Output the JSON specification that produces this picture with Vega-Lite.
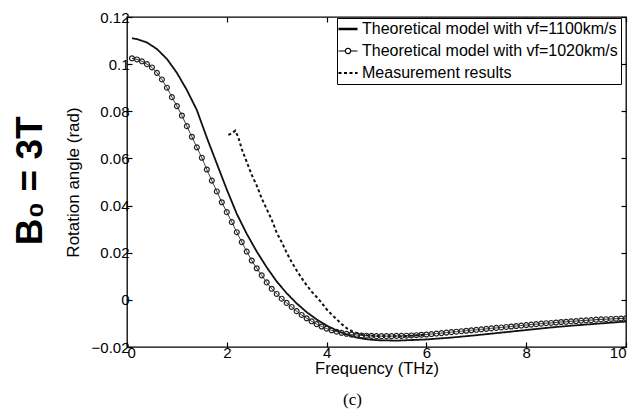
{
  "$schema": "https://vega.github.io/schema/vega-lite/v6.json",
  "padding": {"left": 12, "top": 9, "right": 0, "bottom": 2},
  "background": "white",
  "title": {"text": "B₀ = 3T", "orient": "left", "anchor": "middle", "fontSize": 37, "fontWeight": "bold", "font": "Liberation Sans", "color": "black", "offset": 13, "dx": 28},
  "datasets": {
    "curves": [
      {"series": "Theoretical model with vf=1100km/s", "freq": 0.1, "angle": 0.1110},
      {"series": "Theoretical model with vf=1100km/s", "freq": 0.2, "angle": 0.1106},
      {"series": "Theoretical model with vf=1100km/s", "freq": 0.4, "angle": 0.1092},
      {"series": "Theoretical model with vf=1100km/s", "freq": 0.6, "angle": 0.1064},
      {"series": "Theoretical model with vf=1100km/s", "freq": 0.8, "angle": 0.1022},
      {"series": "Theoretical model with vf=1100km/s", "freq": 1.0, "angle": 0.0963},
      {"series": "Theoretical model with vf=1100km/s", "freq": 1.2, "angle": 0.0890},
      {"series": "Theoretical model with vf=1100km/s", "freq": 1.4, "angle": 0.0805},
      {"series": "Theoretical model with vf=1100km/s", "freq": 1.6, "angle": 0.0688},
      {"series": "Theoretical model with vf=1100km/s", "freq": 1.8, "angle": 0.0578},
      {"series": "Theoretical model with vf=1100km/s", "freq": 2.0, "angle": 0.0468},
      {"series": "Theoretical model with vf=1100km/s", "freq": 2.2, "angle": 0.0365},
      {"series": "Theoretical model with vf=1100km/s", "freq": 2.4, "angle": 0.0280},
      {"series": "Theoretical model with vf=1100km/s", "freq": 2.6, "angle": 0.0205},
      {"series": "Theoretical model with vf=1100km/s", "freq": 2.8, "angle": 0.0138},
      {"series": "Theoretical model with vf=1100km/s", "freq": 3.0, "angle": 0.0078},
      {"series": "Theoretical model with vf=1100km/s", "freq": 3.2, "angle": 0.0028},
      {"series": "Theoretical model with vf=1100km/s", "freq": 3.4, "angle": -0.0015},
      {"series": "Theoretical model with vf=1100km/s", "freq": 3.6, "angle": -0.0052},
      {"series": "Theoretical model with vf=1100km/s", "freq": 3.8, "angle": -0.0083},
      {"series": "Theoretical model with vf=1100km/s", "freq": 4.0, "angle": -0.0109},
      {"series": "Theoretical model with vf=1100km/s", "freq": 4.2, "angle": -0.0130},
      {"series": "Theoretical model with vf=1100km/s", "freq": 4.4, "angle": -0.0147},
      {"series": "Theoretical model with vf=1100km/s", "freq": 4.6, "angle": -0.0160},
      {"series": "Theoretical model with vf=1100km/s", "freq": 4.8, "angle": -0.0167},
      {"series": "Theoretical model with vf=1100km/s", "freq": 5.0, "angle": -0.0171},
      {"series": "Theoretical model with vf=1100km/s", "freq": 5.4, "angle": -0.0173},
      {"series": "Theoretical model with vf=1100km/s", "freq": 6.0, "angle": -0.0168},
      {"series": "Theoretical model with vf=1100km/s", "freq": 6.5, "angle": -0.0160},
      {"series": "Theoretical model with vf=1100km/s", "freq": 7.0, "angle": -0.0150},
      {"series": "Theoretical model with vf=1100km/s", "freq": 7.5, "angle": -0.0139},
      {"series": "Theoretical model with vf=1100km/s", "freq": 8.0, "angle": -0.0128},
      {"series": "Theoretical model with vf=1100km/s", "freq": 8.5, "angle": -0.0117},
      {"series": "Theoretical model with vf=1100km/s", "freq": 9.0, "angle": -0.0108},
      {"series": "Theoretical model with vf=1100km/s", "freq": 9.5, "angle": -0.0100},
      {"series": "Theoretical model with vf=1100km/s", "freq": 10.0, "angle": -0.0092},

      {"series": "Theoretical model with vf=1020km/s", "freq": 0.1, "angle": 0.1025},
      {"series": "Theoretical model with vf=1020km/s", "freq": 0.2, "angle": 0.1020},
      {"series": "Theoretical model with vf=1020km/s", "freq": 0.3, "angle": 0.1012},
      {"series": "Theoretical model with vf=1020km/s", "freq": 0.4, "angle": 0.1000},
      {"series": "Theoretical model with vf=1020km/s", "freq": 0.5, "angle": 0.0986},
      {"series": "Theoretical model with vf=1020km/s", "freq": 0.6, "angle": 0.0963},
      {"series": "Theoretical model with vf=1020km/s", "freq": 0.7, "angle": 0.0935},
      {"series": "Theoretical model with vf=1020km/s", "freq": 0.8, "angle": 0.0900},
      {"series": "Theoretical model with vf=1020km/s", "freq": 0.9, "angle": 0.0860},
      {"series": "Theoretical model with vf=1020km/s", "freq": 1.0, "angle": 0.0822},
      {"series": "Theoretical model with vf=1020km/s", "freq": 1.1, "angle": 0.0782},
      {"series": "Theoretical model with vf=1020km/s", "freq": 1.2, "angle": 0.0737},
      {"series": "Theoretical model with vf=1020km/s", "freq": 1.3, "angle": 0.0692},
      {"series": "Theoretical model with vf=1020km/s", "freq": 1.4, "angle": 0.0647},
      {"series": "Theoretical model with vf=1020km/s", "freq": 1.5, "angle": 0.0603},
      {"series": "Theoretical model with vf=1020km/s", "freq": 1.6, "angle": 0.0553},
      {"series": "Theoretical model with vf=1020km/s", "freq": 1.7, "angle": 0.0506},
      {"series": "Theoretical model with vf=1020km/s", "freq": 1.8, "angle": 0.0460},
      {"series": "Theoretical model with vf=1020km/s", "freq": 1.9, "angle": 0.0414},
      {"series": "Theoretical model with vf=1020km/s", "freq": 2.0, "angle": 0.0372},
      {"series": "Theoretical model with vf=1020km/s", "freq": 2.1, "angle": 0.0330},
      {"series": "Theoretical model with vf=1020km/s", "freq": 2.2, "angle": 0.0287},
      {"series": "Theoretical model with vf=1020km/s", "freq": 2.3, "angle": 0.0245},
      {"series": "Theoretical model with vf=1020km/s", "freq": 2.4, "angle": 0.0205},
      {"series": "Theoretical model with vf=1020km/s", "freq": 2.5, "angle": 0.0167},
      {"series": "Theoretical model with vf=1020km/s", "freq": 2.6, "angle": 0.0134},
      {"series": "Theoretical model with vf=1020km/s", "freq": 2.7, "angle": 0.0104},
      {"series": "Theoretical model with vf=1020km/s", "freq": 2.8, "angle": 0.0074},
      {"series": "Theoretical model with vf=1020km/s", "freq": 2.9, "angle": 0.0047},
      {"series": "Theoretical model with vf=1020km/s", "freq": 3.0, "angle": 0.0025},
      {"series": "Theoretical model with vf=1020km/s", "freq": 3.1, "angle": 0.0005},
      {"series": "Theoretical model with vf=1020km/s", "freq": 3.2, "angle": -0.0013},
      {"series": "Theoretical model with vf=1020km/s", "freq": 3.3, "angle": -0.0030},
      {"series": "Theoretical model with vf=1020km/s", "freq": 3.4, "angle": -0.0048},
      {"series": "Theoretical model with vf=1020km/s", "freq": 3.5, "angle": -0.0064},
      {"series": "Theoretical model with vf=1020km/s", "freq": 3.6, "angle": -0.0078},
      {"series": "Theoretical model with vf=1020km/s", "freq": 3.7, "angle": -0.0091},
      {"series": "Theoretical model with vf=1020km/s", "freq": 3.8, "angle": -0.0103},
      {"series": "Theoretical model with vf=1020km/s", "freq": 3.9, "angle": -0.0113},
      {"series": "Theoretical model with vf=1020km/s", "freq": 4.0, "angle": -0.0122},
      {"series": "Theoretical model with vf=1020km/s", "freq": 4.1, "angle": -0.0129},
      {"series": "Theoretical model with vf=1020km/s", "freq": 4.2, "angle": -0.0135},
      {"series": "Theoretical model with vf=1020km/s", "freq": 4.3, "angle": -0.0140},
      {"series": "Theoretical model with vf=1020km/s", "freq": 4.4, "angle": -0.0144},
      {"series": "Theoretical model with vf=1020km/s", "freq": 4.5, "angle": -0.0147},
      {"series": "Theoretical model with vf=1020km/s", "freq": 4.6, "angle": -0.0149},
      {"series": "Theoretical model with vf=1020km/s", "freq": 4.7, "angle": -0.0151},
      {"series": "Theoretical model with vf=1020km/s", "freq": 4.8, "angle": -0.0152},
      {"series": "Theoretical model with vf=1020km/s", "freq": 4.9, "angle": -0.0153},
      {"series": "Theoretical model with vf=1020km/s", "freq": 5.0, "angle": -0.0154},
      {"series": "Theoretical model with vf=1020km/s", "freq": 5.1, "angle": -0.0154},
      {"series": "Theoretical model with vf=1020km/s", "freq": 5.2, "angle": -0.0154},
      {"series": "Theoretical model with vf=1020km/s", "freq": 5.3, "angle": -0.0154},
      {"series": "Theoretical model with vf=1020km/s", "freq": 5.4, "angle": -0.0153},
      {"series": "Theoretical model with vf=1020km/s", "freq": 5.5, "angle": -0.0153},
      {"series": "Theoretical model with vf=1020km/s", "freq": 5.6, "angle": -0.0152},
      {"series": "Theoretical model with vf=1020km/s", "freq": 5.7, "angle": -0.0151},
      {"series": "Theoretical model with vf=1020km/s", "freq": 5.8, "angle": -0.0150},
      {"series": "Theoretical model with vf=1020km/s", "freq": 5.9, "angle": -0.0148},
      {"series": "Theoretical model with vf=1020km/s", "freq": 6.0, "angle": -0.0147},
      {"series": "Theoretical model with vf=1020km/s", "freq": 6.1, "angle": -0.0145},
      {"series": "Theoretical model with vf=1020km/s", "freq": 6.2, "angle": -0.0143},
      {"series": "Theoretical model with vf=1020km/s", "freq": 6.3, "angle": -0.0141},
      {"series": "Theoretical model with vf=1020km/s", "freq": 6.4, "angle": -0.0139},
      {"series": "Theoretical model with vf=1020km/s", "freq": 6.5, "angle": -0.0137},
      {"series": "Theoretical model with vf=1020km/s", "freq": 6.6, "angle": -0.0135},
      {"series": "Theoretical model with vf=1020km/s", "freq": 6.7, "angle": -0.0133},
      {"series": "Theoretical model with vf=1020km/s", "freq": 6.8, "angle": -0.0131},
      {"series": "Theoretical model with vf=1020km/s", "freq": 6.9, "angle": -0.0129},
      {"series": "Theoretical model with vf=1020km/s", "freq": 7.0, "angle": -0.0127},
      {"series": "Theoretical model with vf=1020km/s", "freq": 7.1, "angle": -0.0125},
      {"series": "Theoretical model with vf=1020km/s", "freq": 7.2, "angle": -0.0123},
      {"series": "Theoretical model with vf=1020km/s", "freq": 7.3, "angle": -0.0121},
      {"series": "Theoretical model with vf=1020km/s", "freq": 7.4, "angle": -0.0119},
      {"series": "Theoretical model with vf=1020km/s", "freq": 7.5, "angle": -0.0117},
      {"series": "Theoretical model with vf=1020km/s", "freq": 7.6, "angle": -0.0115},
      {"series": "Theoretical model with vf=1020km/s", "freq": 7.7, "angle": -0.0113},
      {"series": "Theoretical model with vf=1020km/s", "freq": 7.8, "angle": -0.0111},
      {"series": "Theoretical model with vf=1020km/s", "freq": 7.9, "angle": -0.0109},
      {"series": "Theoretical model with vf=1020km/s", "freq": 8.0, "angle": -0.0107},
      {"series": "Theoretical model with vf=1020km/s", "freq": 8.1, "angle": -0.0105},
      {"series": "Theoretical model with vf=1020km/s", "freq": 8.2, "angle": -0.0103},
      {"series": "Theoretical model with vf=1020km/s", "freq": 8.3, "angle": -0.0101},
      {"series": "Theoretical model with vf=1020km/s", "freq": 8.4, "angle": -0.0099},
      {"series": "Theoretical model with vf=1020km/s", "freq": 8.5, "angle": -0.0098},
      {"series": "Theoretical model with vf=1020km/s", "freq": 8.6, "angle": -0.0096},
      {"series": "Theoretical model with vf=1020km/s", "freq": 8.7, "angle": -0.0094},
      {"series": "Theoretical model with vf=1020km/s", "freq": 8.8, "angle": -0.0093},
      {"series": "Theoretical model with vf=1020km/s", "freq": 8.9, "angle": -0.0091},
      {"series": "Theoretical model with vf=1020km/s", "freq": 9.0, "angle": -0.0090},
      {"series": "Theoretical model with vf=1020km/s", "freq": 9.1, "angle": -0.0088},
      {"series": "Theoretical model with vf=1020km/s", "freq": 9.2, "angle": -0.0087},
      {"series": "Theoretical model with vf=1020km/s", "freq": 9.3, "angle": -0.0086},
      {"series": "Theoretical model with vf=1020km/s", "freq": 9.4, "angle": -0.0084},
      {"series": "Theoretical model with vf=1020km/s", "freq": 9.5, "angle": -0.0083},
      {"series": "Theoretical model with vf=1020km/s", "freq": 9.6, "angle": -0.0082},
      {"series": "Theoretical model with vf=1020km/s", "freq": 9.7, "angle": -0.0081},
      {"series": "Theoretical model with vf=1020km/s", "freq": 9.8, "angle": -0.0080},
      {"series": "Theoretical model with vf=1020km/s", "freq": 9.9, "angle": -0.0079},
      {"series": "Theoretical model with vf=1020km/s", "freq": 10.0, "angle": -0.0078},

      {"series": "Measurement results", "freq": 2.03, "angle": 0.0700},
      {"series": "Measurement results", "freq": 2.10, "angle": 0.0706},
      {"series": "Measurement results", "freq": 2.17, "angle": 0.0718},
      {"series": "Measurement results", "freq": 2.23, "angle": 0.0690},
      {"series": "Measurement results", "freq": 2.30, "angle": 0.0640},
      {"series": "Measurement results", "freq": 2.40, "angle": 0.0585},
      {"series": "Measurement results", "freq": 2.50, "angle": 0.0530},
      {"series": "Measurement results", "freq": 2.60, "angle": 0.0485},
      {"series": "Measurement results", "freq": 2.70, "angle": 0.0430},
      {"series": "Measurement results", "freq": 2.80, "angle": 0.0385},
      {"series": "Measurement results", "freq": 2.90, "angle": 0.0340},
      {"series": "Measurement results", "freq": 3.00, "angle": 0.0285},
      {"series": "Measurement results", "freq": 3.10, "angle": 0.0245},
      {"series": "Measurement results", "freq": 3.20, "angle": 0.0200},
      {"series": "Measurement results", "freq": 3.30, "angle": 0.0160},
      {"series": "Measurement results", "freq": 3.40, "angle": 0.0125},
      {"series": "Measurement results", "freq": 3.50, "angle": 0.0092},
      {"series": "Measurement results", "freq": 3.60, "angle": 0.0062},
      {"series": "Measurement results", "freq": 3.70, "angle": 0.0035},
      {"series": "Measurement results", "freq": 3.80, "angle": 0.0012},
      {"series": "Measurement results", "freq": 3.90, "angle": -0.0012},
      {"series": "Measurement results", "freq": 4.00, "angle": -0.0040},
      {"series": "Measurement results", "freq": 4.10, "angle": -0.0062},
      {"series": "Measurement results", "freq": 4.20, "angle": -0.0082},
      {"series": "Measurement results", "freq": 4.30, "angle": -0.0102},
      {"series": "Measurement results", "freq": 4.40, "angle": -0.0120},
      {"series": "Measurement results", "freq": 4.50, "angle": -0.0132},
      {"series": "Measurement results", "freq": 4.60, "angle": -0.0140},
      {"series": "Measurement results", "freq": 4.70, "angle": -0.0146},
      {"series": "Measurement results", "freq": 4.80, "angle": -0.0150},
      {"series": "Measurement results", "freq": 5.00, "angle": -0.0153},
      {"series": "Measurement results", "freq": 5.50, "angle": -0.0155},
      {"series": "Measurement results", "freq": 6.00, "angle": -0.0148}
    ]
  },
  "vconcat": [
    {
      "width": 499,
      "height": 330,
      "title": {"text": "(c)", "orient": "bottom", "anchor": "middle", "font": "Liberation Serif", "fontSize": 17, "fontWeight": "normal", "color": "black", "offset": 15, "dx": -24},
      "data": {"name": "curves"},
      "layer": [
        {
          "transform": [{"filter": {"field": "series", "equal": "Theoretical model with vf=1100km/s"}}],
          "mark": {"type": "line", "color": "#111", "strokeWidth": 1.8, "clip": true},
          "encoding": {
            "x": {"field": "freq", "type": "quantitative", "scale": {"domain": [0, 10], "nice": false, "zero": false},
                  "axis": {"orient": "bottom", "values": [0, 2, 4, 6, 8, 10], "format": "d", "title": "Frequency (THz)", "titleFontSize": 16.5, "tickSize": -5, "labelPadding": 3, "titlePadding": 0, "domain": false}},
            "y": {"field": "angle", "type": "quantitative", "scale": {"domain": [-0.02, 0.12], "nice": false, "zero": false},
                  "axis": {"orient": "left", "values": [-0.02, 0, 0.02, 0.04, 0.06, 0.08, 0.1, 0.12], "labelExpr": "datum.value == 0.12 ? '0.12' : format(datum.value, '~g')", "title": "Rotation angle (rad)", "titleFontSize": 17, "tickSize": -5, "labelPadding": 3, "titlePadding": 9, "domain": false}},
            "strokeDash": {"field": "series", "type": "nominal",
              "scale": {"domain": ["Theoretical model with vf=1100km/s", "Theoretical model with vf=1020km/s", "Measurement results"], "range": [[1, 0], [1, 0], [3, 2.5]]},
              "legend": {
                "orient": "none", "legendX": 210, "legendY": 1, "title": null,
                "strokeColor": "black", "fillColor": "white", "padding": 3,
                "labelFont": "Liberation Sans", "labelFontSize": 16, "labelColor": "black", "labelLimit": 400, "labelOffset": 6,
                "symbolType": "stroke", "symbolSize": 361, "symbolStrokeColor": "black", "symbolStrokeWidth": 1.5, "rowPadding": 6,
                "encode": {"symbols": {"update": {
                  "shape": {"signal": "datum.value == 'Theoretical model with vf=1020km/s' ? 'M-1,0H-0.28M0.28,0H1M-0.28,0A0.28,0.28,0,1,1,0.28,0A0.28,0.28,0,1,1,-0.28,0' : 'stroke'"},
                  "strokeWidth": {"signal": "datum.value == 'Theoretical model with vf=1100km/s' ? 2.5 : (datum.value == 'Measurement results' ? 2.2 : 1.2)"}
                }}}
              }}
          }
        },
        {
          "transform": [{"filter": {"field": "series", "equal": "Theoretical model with vf=1020km/s"}}],
          "mark": {"type": "line", "color": "#222", "strokeWidth": 1, "clip": true},
          "encoding": {
            "x": {"field": "freq", "type": "quantitative", "axis": null},
            "y": {"field": "angle", "type": "quantitative", "axis": null},
            "strokeDash": {"field": "series", "type": "nominal"}
          }
        },
        {
          "transform": [{"filter": {"field": "series", "equal": "Measurement results"}}],
          "mark": {"type": "line", "color": "#111", "strokeWidth": 2, "clip": true},
          "encoding": {
            "x": {"field": "freq", "type": "quantitative", "axis": null},
            "y": {"field": "angle", "type": "quantitative", "axis": null},
            "strokeDash": {"field": "series", "type": "nominal"}
          }
        },
        {
          "transform": [{"filter": {"field": "series", "equal": "Theoretical model with vf=1020km/s"}}],
          "mark": {"type": "point", "shape": "circle", "size": 24, "filled": false, "stroke": "#222", "strokeWidth": 1.2, "opacity": 1, "clip": true},
          "encoding": {
            "x": {"field": "freq", "type": "quantitative", "axis": {"orient": "top", "values": [0, 2, 4, 6, 8, 10], "labels": false, "title": null, "tickSize": -5, "domain": false}},
            "y": {"field": "angle", "type": "quantitative", "axis": {"orient": "right", "values": [-0.02, 0, 0.02, 0.04, 0.06, 0.08, 0.1, 0.12], "labels": false, "title": null, "tickSize": -5, "domain": false}}
          }
        }
      ],
      "resolve": {"axis": {"x": "independent", "y": "independent"}}
    }
  ],
  "config": {
    "view": {"stroke": "black", "strokeWidth": 1.3},
    "font": "Liberation Sans",
    "concat": {"spacing": 0},
    "axis": {"labelFont": "Liberation Sans", "labelFontSize": 15, "labelColor": "black", "titleFont": "Liberation Sans", "titleFontSize": 16, "titleFontWeight": "normal", "titleColor": "black", "tickColor": "black", "tickWidth": 1.2, "grid": false}
  }
}
